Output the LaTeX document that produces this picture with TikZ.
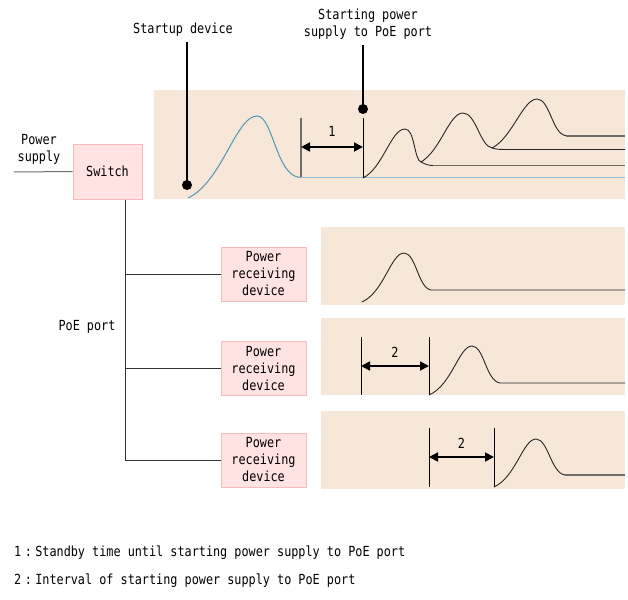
\documentclass[tikz,border=0pt]{standalone}
\usepackage{fontspec}
\newfontfamily\gothic[FakeStretch=0.85]{DejaVu Sans Mono}
\usetikzlibrary{arrows.meta}
\definecolor{pBack}{RGB}{247,231,216}
\definecolor{pFill}{RGB}{255,226,226}
\definecolor{pLine}{RGB}{248,186,186}
\definecolor{pCurve}{RGB}{78,152,182}
\definecolor{pBase}{RGB}{150,184,212}
\definecolor{pGray}{RGB}{112,108,104}
\tikzset{
  dev/.style={rectangle, draw=pLine, fill=pFill, line width=1pt, align=center,
              font=\gothic\fontsize{13.9}{17}\selectfont, inner sep=0pt},
  lbl/.style={font=\gothic\fontsize{13.9}{17}\selectfont, align=center, inner sep=0pt},
  panel/.style={fill=pBack},
  wire/.style={draw=black!80, line width=1pt},
  pulse/.style={draw=black!85, line width=0.9pt},
  flat/.style={draw=pGray, line width=1.6pt},
  tick/.style={draw=black, line width=1pt},
  span/.style={{Triangle[length=9pt,width=9pt]}-{Triangle[length=9pt,width=9pt]}, line width=1.8pt},
}
\newcommand\fwcolon{\makebox[14pt]{:}}

\begin{document}
\begin{tikzpicture}[x=1pt,y=-1pt]
  \useasboundingbox (0,0) rectangle (628,599);
  % timing panels
  \fill[panel] (154,90)  rectangle (625,199);
  \fill[panel] (321,227) rectangle (625,305);
  \fill[panel] (321,318) rectangle (625,395);
  \fill[panel] (321,411) rectangle (625,489);

  % devices
  \node[dev, minimum width=69pt, minimum height=55pt] (sw) at (107.5,171.5) {Switch};
  \node[dev, minimum width=85pt, minimum height=54pt] (prdA) at (263.5,274) {Power\\receiving\\device};
  \node[dev, minimum width=85pt, minimum height=54pt] (prdB) at (263.5,368.5) {Power\\receiving\\device};
  \node[dev, minimum width=85pt, minimum height=54pt] (prdC) at (263.5,460) {Power\\receiving\\device};

  % wiring
  \coordinate (mains) at (14,172);
  \coordinate (trunk) at (125.5,460);
  \node[lbl] (psLbl) at (39,149) {Power\\supply};
  \draw[wire, draw=pGray] (mains) -- (sw.west);
  \draw[wire] (sw.south -| trunk) |- (prdC.west);
  \draw[wire] (prdA.west -| trunk) -- (prdA.west);
  \draw[wire] (prdB.west -| trunk) -- (prdB.west);
  \node[lbl] (poeLbl) at (87,327) {PoE port};

  % startup device
  \draw[pCurve, line width=1pt] (188,198) .. controls (222,182) and (236,116) .. (257,116)
        .. controls (273,116) and (276,176) .. (300,177.5);
  \draw[pBase, line width=1pt] (300,177.5) -- (625,177.5);
  \coordinate (startDot) at (187,185);
  \node[lbl] (startLbl) at (183,30) {Startup device};
  \draw[tick, line width=1.6pt] (startLbl.south -| startDot) ++(0,5) -- (startDot);
  \fill (startDot) circle (5);

  % start of PoE supply
  \coordinate (poeDot) at (363,109);
  \node[lbl] (poeStart) at (368,24.5) {Starting power\\supply to PoE port};
  \draw[tick, line width=1.6pt] (poeStart.south -| poeDot) ++(0,5) -- (poeDot);
  \fill (poeDot) circle (5);
  \draw[tick] (363,118) -- (363,178);
  \draw[draw=pGray, line width=1.5pt] (301,118) -- (301,177);
  \draw[span] (301,147) -- node[lbl, above=10pt] {1} (363,147);

  % top panel pulses
  \draw[pulse] (363,178) .. controls (383,168) and (391,129) .. (405,129)
        .. controls (415,129) and (414,160) .. (421,162)
        .. controls (425,164) and (428,165.5) .. (433,165.5);
  \draw[flat] (433,165.5) -- (625,165.5);
  \draw[pulse] (421,162) .. controls (441,150) and (449,113) .. (463,113)
        .. controls (476,113) and (480,146) .. (492,148)
        .. controls (495,149) and (498,149.5) .. (505,149.5) -- (625,149.5);
  \draw[pulse] (492,148) .. controls (512,138) and (523,99) .. (537,99)
        .. controls (550,99) and (552,134) .. (566,135.7);
  \draw[flat] (566,135.7) -- (625,135.7);

  % first receiving device
  \draw[pulse] (362,302) .. controls (384,292) and (391,253) .. (404,253)
        .. controls (416,253) and (418,288) .. (431,290) -- (625,290);

  % second receiving device
  \draw[tick] (361,337) -- (361,395);
  \draw[tick] (429,337) -- (429,395);
  \draw[span] (361,366) -- node[lbl, above=8pt] {2} (429,366);
  \draw[pulse] (429,395) .. controls (452,385) and (459,346) .. (472,346)
        .. controls (484,346) and (486,381) .. (500,383) -- (625,383);

  % third receiving device
  \draw[tick] (429,428) -- (429,487);
  \draw[tick] (494,428) -- (494,487);
  \draw[span] (429,457) -- node[lbl, above=8pt] {2} (494,457);
  \draw[pulse] (494,487) .. controls (516,477) and (523,439) .. (536,439)
        .. controls (548,439) and (551,473) .. (565,475);
  \draw[flat] (565,475) -- (625,475);

  % legend
  \node[lbl, anchor=west] (keyA) at (14,553) {1\fwcolon Standby time until starting power supply to PoE port};
  \node[lbl, anchor=west] (keyB) at (14,581) {2\fwcolon Interval of starting power supply to PoE port};
\end{tikzpicture}
\end{document}
